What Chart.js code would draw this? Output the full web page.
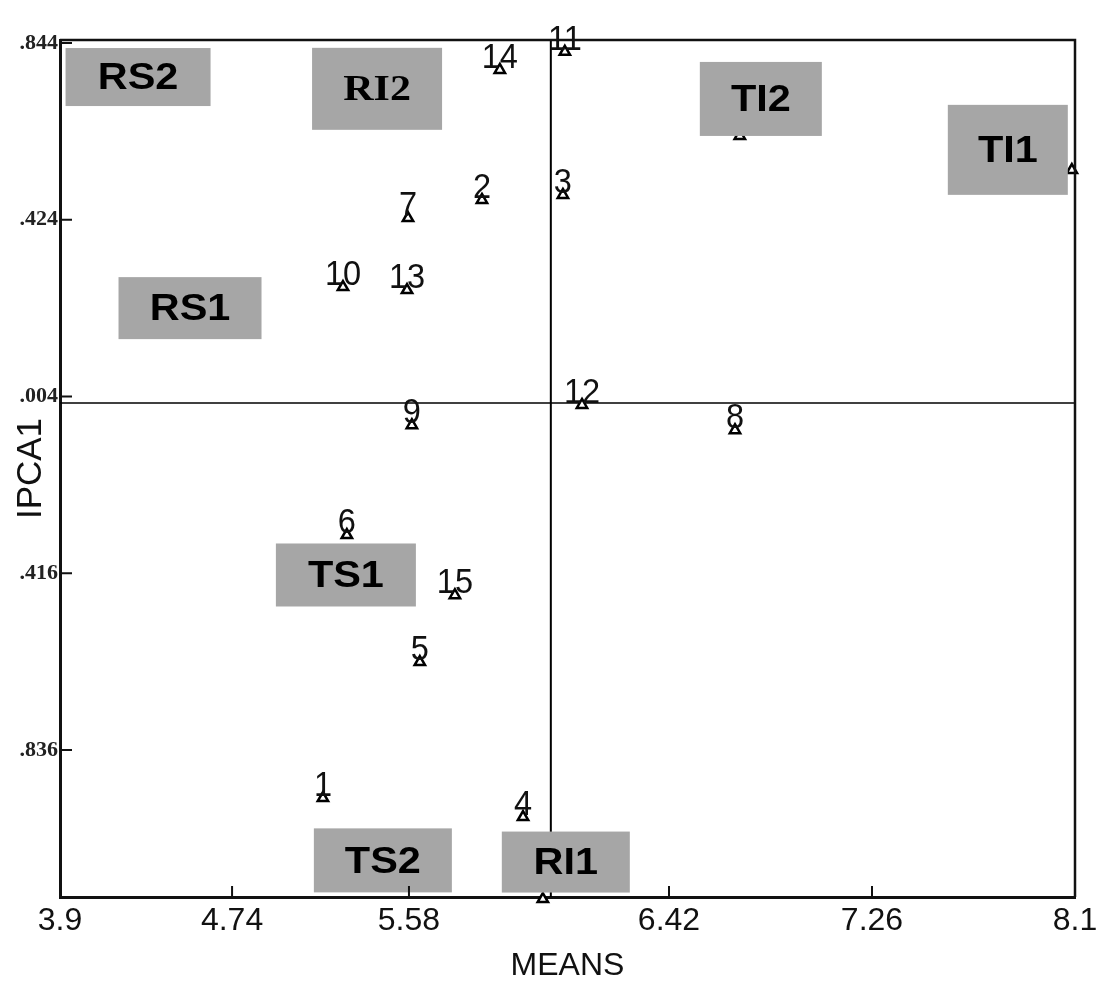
<!DOCTYPE html>
<html>
<head>
<meta charset="utf-8">
<script src="https://cdn.jsdelivr.net/npm/chart.js@4.4.0/dist/chart.umd.min.js"></script>
<style>
  body { margin: 0; background: #fff; }
  canvas { display: block; }
</style>
</head>
<body>
<canvas id="grafico" width="1114" height="987"></canvas>
<script>
// genotypes (numbered points)
var genotipos = ['1','2','3','4','5','6','7','8','9','10','11','12','13','14','15'];
var medias = [4.988, 5.646, 5.981, 5.816, 5.389, 5.087, 5.340, 6.693, 5.356, 5.071, 5.989, 6.060, 5.336, 5.720, 5.534];
var ipca1 = [-0.950, 0.471, 0.483, -0.995, -0.627, -0.325, 0.428, -0.076, -0.064, 0.264, 0.823, -0.016, 0.257, 0.780, -0.468];

// environment points (mostly hidden under the grey labels)
var ambientes = ['TI1', 'TI2', 'RI1'];
var ambMedias = [8.087, 6.713, 5.898];
var ambIpca = [0.542, 0.623, -1.19];

// grey environment labels
var caixas = ['RS2', 'RI2', 'TI2', 'TI1', 'RS1', 'TS1', 'TS2', 'RI1'];
var caixaX = [4.223, 5.212, 6.80, 7.822, 4.438, 5.083, 5.236, 5.993];
var caixaY = [0.763, 0.735, 0.711, 0.590, 0.214, -0.420, -1.098, -1.102];

// reference lines
var mediaGeral = 5.931;
var zeroIpca = -0.0115;

// axes
var xMin = 3.9, xMax = 8.1, yMin = -1.185, yMax = 0.851;
var xTicks = [3.9, 4.612, 5.344, 6.42, 7.26, 8.1];
var xTickLabels = ['3.9', '4.74', '5.58', '6.42', '7.26', '8.1'];
var yTicks = [0.844, 0.424, 0.004, -0.416, -0.836];
var yTickLabels = ['.844', '.424', '.004', '.416', '.836'];

var estiloCaixa = {
    RS2: { w: 145, h: 58 }, RI2: { w: 130, h: 82, serif: true }, TI2: { w: 122, h: 74 },
    TI1: { w: 120, h: 90 }, RS1: { w: 143, h: 62 }, TS1: { w: 140, h: 63 },
    TS2: { w: 138, h: 64 }, RI1: { w: 128, h: 61 }
};

var pontos = medias.map(function(m, i){ return { x: m, y: ipca1[i] }; });
var pontosAmb = ambMedias.map(function(m, i){ return { x: m, y: ambIpca[i] }; });

var rotulosPlugin = {
    id: 'rotulos',
    afterDatasetsDraw: function(chart){
        var ctx = chart.ctx;
        var sx = chart.scales.x, sy = chart.scales.y;
        ctx.save();
        // numbers over the triangles (a bit taller than wide, like the scan)
        ctx.fillStyle = '#111';
        ctx.font = '31px "Liberation Sans", Arial, sans-serif';
        ctx.textAlign = 'center';
        ctx.textBaseline = 'alphabetic';
        genotipos.forEach(function(g, i){
            var px = sx.getPixelForValue(medias[i]);
            var py = sy.getPixelForValue(ipca1[i]) - 2;
            ctx.save();
            ctx.translate(px, py);
            ctx.scale(1.05, 1.15);
            ctx.fillText(g, 0, 0);
            ctx.restore();
        });
        // grey boxes
        caixas.forEach(function(nome, i){
            var st = estiloCaixa[nome];
            var cx = sx.getPixelForValue(caixaX[i]);
            var cy = sy.getPixelForValue(caixaY[i]);
            ctx.fillStyle = '#a6a6a6';
            ctx.fillRect(cx - st.w / 2, cy - st.h / 2, st.w, st.h);
            ctx.fillStyle = '#000';
            ctx.textBaseline = 'middle';
            ctx.font = st.serif ? 'bold 35px "Liberation Serif", "Times New Roman", serif'
                                : 'bold 37px "Liberation Sans", Arial, sans-serif';
            ctx.save();
            ctx.translate(cx, cy + 2);
            ctx.scale(st.serif ? 1.2 : 1.12, 1);
            ctx.fillText(nome, 0, 0);
            ctx.restore();
        });
        ctx.restore();
    },
    afterDraw: function(chart){
        var ctx = chart.ctx;
        var a = chart.chartArea;
        var sx = chart.scales.x, sy = chart.scales.y;
        ctx.save();
        ctx.strokeStyle = '#111';
        // top and right frame
        ctx.lineWidth = 2.5;
        ctx.beginPath();
        ctx.moveTo(a.left, a.top);
        ctx.lineTo(a.right, a.top);
        ctx.lineTo(a.right, a.bottom);
        ctx.stroke();
        // inward tick marks
        ctx.lineWidth = 2;
        ctx.beginPath();
        xTicks.forEach(function(v){
            var px = sx.getPixelForValue(v);
            ctx.moveTo(px, a.bottom);
            ctx.lineTo(px, a.bottom - 11);
        });
        yTicks.forEach(function(v){
            var py = sy.getPixelForValue(v);
            ctx.moveTo(a.left, py);
            ctx.lineTo(a.left + 12, py);
        });
        ctx.stroke();
        ctx.restore();
    }
};

var ctxGrafico = document.getElementById('grafico').getContext('2d');

var grafico = new Chart(ctxGrafico, {
    type: 'scatter',
    data: {
        datasets: [{
            label: 'Genotipos',
            data: pontos,
            pointStyle: 'triangle',
            pointRadius: 6,
            borderWidth: 2.5,
            borderColor: '#000',
            backgroundColor: '#fff'
        }, {
            label: 'Ambientes',
            data: pontosAmb,
            pointStyle: 'triangle',
            pointRadius: 6,
            borderWidth: 2.5,
            borderColor: '#000',
            backgroundColor: '#fff',
            clip: false
        }, {
            label: 'media',
            data: [{ x: mediaGeral, y: yMax }, { x: mediaGeral, y: yMin }],
            showLine: true,
            borderColor: '#000',
            borderWidth: 2,
            pointRadius: 0
        }, {
            label: 'zero',
            data: [{ x: xMin, y: zeroIpca }, { x: xMax, y: zeroIpca }],
            showLine: true,
            borderColor: '#000',
            borderWidth: 1.5,
            pointRadius: 0
        }]
    },
    options: {
        responsive: false,
        animation: false,
        devicePixelRatio: 1,
        layout: { padding: { left: 0, top: 40, right: 39, bottom: 0 } },
        plugins: {
            legend: { display: false },
            tooltip: { enabled: false }
        },
        scales: {
            x: {
                type: 'linear',
                min: xMin,
                max: xMax,
                afterFit: function(s){ s.height = 90; },
                afterBuildTicks: function(s){ s.ticks = xTicks.map(function(v){ return { value: v }; }); },
                ticks: {
                    padding: 5,
                    color: '#111',
                    font: { family: '"Liberation Sans", Arial, sans-serif', size: 32 },
                    maxRotation: 0,
                    autoSkip: false,
                    callback: function(v){ return xTickLabels[xTicks.indexOf(v)]; }
                },
                grid: { display: true, drawOnChartArea: false, drawTicks: false },
                border: { color: '#111', width: 3 },
                title: {
                    display: true,
                    text: 'MEANS',
                    color: '#111',
                    font: { family: '"Liberation Sans", Arial, sans-serif', size: 32 },
                    padding: { top: 0, bottom: 2 }
                }
            },
            y: {
                type: 'linear',
                min: yMin,
                max: yMax,
                afterFit: function(s){ s.width = 60; },
                afterBuildTicks: function(s){ s.ticks = yTicks.map(function(v){ return { value: v }; }); },
                ticks: {
                    padding: 2,
                    color: '#222',
                    font: { family: '"Liberation Serif", "Times New Roman", serif', size: 22, weight: 'bold' },
                    autoSkip: false,
                    callback: function(v){ return yTickLabels[yTicks.indexOf(v)]; }
                },
                grid: { display: true, drawOnChartArea: false, drawTicks: false },
                border: { color: '#111', width: 3 },
                title: {
                    display: true,
                    text: 'IPCA1',
                    color: '#111',
                    font: { family: '"Liberation Sans", Arial, sans-serif', size: 35 },
                    padding: { top: 10, bottom: 0 }
                }
            }
        }
    },
    plugins: [rotulosPlugin]
});
</script>
</body>
</html>
